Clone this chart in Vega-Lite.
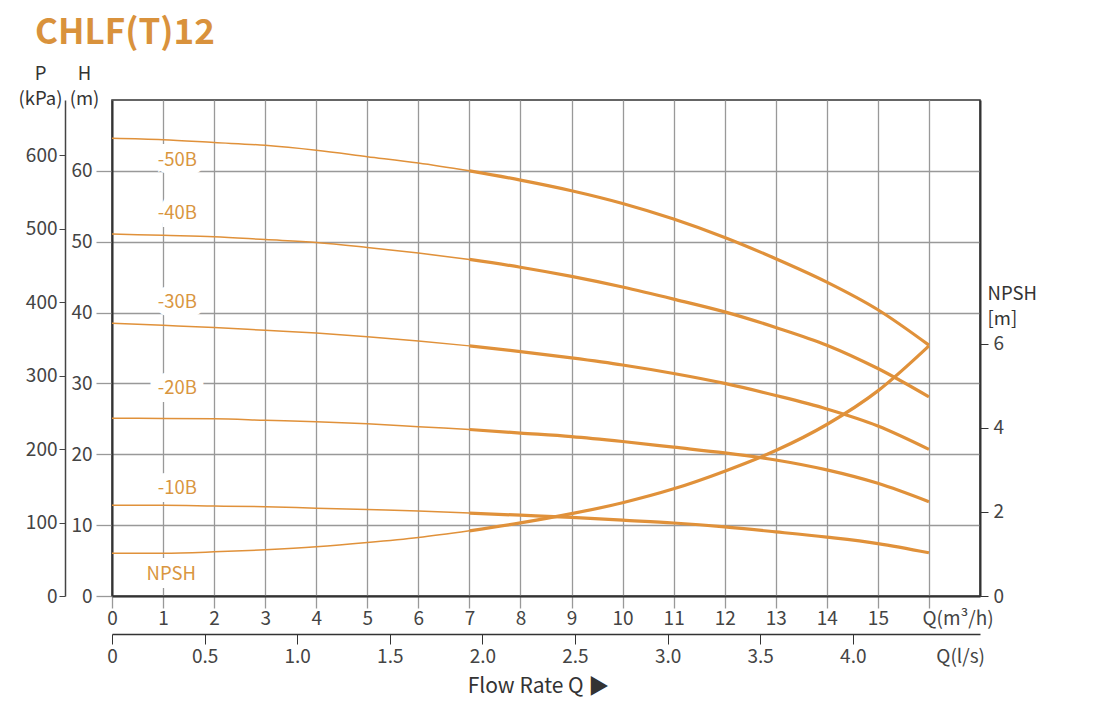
{
  "$schema": "https://vega.github.io/schema/vega-lite/v6.json",
  "autosize": {"type": "none"},
  "width": 868,
  "height": 496,
  "padding": {"left": 112, "top": 100, "right": 120, "bottom": 109},
  "background": "white",
  "config": {
    "view": {"stroke": "#333", "strokeWidth": 1.5},
    "font": "Noto Sans CJK SC",
    "axis": {"labelFont": "Noto Sans CJK SC", "titleFont": "Noto Sans CJK SC", "labelFontSize": 19, "labelColor": "#444", "titleColor": "#333", "titleFontWeight": "normal", "titleFontSize": 18.5, "labelFlush": false}
  },
  "title": {"text": "CHLF(T)12", "anchor": "start", "frame": "group", "fontSize": 35, "fontWeight": "bold", "color": "#D9923C", "font": "Noto Sans CJK SC", "dx": -77, "dy": -9},
  "datasets": {
    "pump": [
      {"s": "-50B", "q": 0, "h": 64.6}, {"s": "-50B", "q": 1, "h": 64.4}, {"s": "-50B", "q": 2, "h": 64.0}, {"s": "-50B", "q": 3, "h": 63.6}, {"s": "-50B", "q": 4, "h": 62.9}, {"s": "-50B", "q": 5, "h": 62.0}, {"s": "-50B", "q": 6, "h": 61.1}, {"s": "-50B", "q": 7, "h": 60.0}, {"s": "-50B", "q": 8, "h": 58.7}, {"s": "-50B", "q": 9, "h": 57.2}, {"s": "-50B", "q": 10, "h": 55.4}, {"s": "-50B", "q": 11, "h": 53.2}, {"s": "-50B", "q": 12, "h": 50.6}, {"s": "-50B", "q": 13, "h": 47.6}, {"s": "-50B", "q": 14, "h": 44.3}, {"s": "-50B", "q": 15, "h": 40.4}, {"s": "-50B", "q": 16, "h": 35.4},
      {"s": "-40B", "q": 0, "h": 51.1}, {"s": "-40B", "q": 1, "h": 50.9}, {"s": "-40B", "q": 2, "h": 50.7}, {"s": "-40B", "q": 3, "h": 50.3}, {"s": "-40B", "q": 4, "h": 49.9}, {"s": "-40B", "q": 5, "h": 49.2}, {"s": "-40B", "q": 6, "h": 48.4}, {"s": "-40B", "q": 7, "h": 47.5}, {"s": "-40B", "q": 8, "h": 46.4}, {"s": "-40B", "q": 9, "h": 45.1}, {"s": "-40B", "q": 10, "h": 43.6}, {"s": "-40B", "q": 11, "h": 41.9}, {"s": "-40B", "q": 12, "h": 40.1}, {"s": "-40B", "q": 13, "h": 37.9}, {"s": "-40B", "q": 14, "h": 35.4}, {"s": "-40B", "q": 15, "h": 32.1}, {"s": "-40B", "q": 16, "h": 28.1},
      {"s": "-30B", "q": 0, "h": 38.5}, {"s": "-30B", "q": 1, "h": 38.2}, {"s": "-30B", "q": 2, "h": 37.9}, {"s": "-30B", "q": 3, "h": 37.5}, {"s": "-30B", "q": 4, "h": 37.1}, {"s": "-30B", "q": 5, "h": 36.6}, {"s": "-30B", "q": 6, "h": 36.0}, {"s": "-30B", "q": 7, "h": 35.3}, {"s": "-30B", "q": 8, "h": 34.5}, {"s": "-30B", "q": 9, "h": 33.6}, {"s": "-30B", "q": 10, "h": 32.6}, {"s": "-30B", "q": 11, "h": 31.4}, {"s": "-30B", "q": 12, "h": 30.0}, {"s": "-30B", "q": 13, "h": 28.3}, {"s": "-30B", "q": 14, "h": 26.4}, {"s": "-30B", "q": 15, "h": 24.0}, {"s": "-30B", "q": 16, "h": 20.7},
      {"s": "-20B", "q": 0, "h": 25.1}, {"s": "-20B", "q": 1, "h": 25.05}, {"s": "-20B", "q": 2, "h": 25.0}, {"s": "-20B", "q": 3, "h": 24.8}, {"s": "-20B", "q": 4, "h": 24.6}, {"s": "-20B", "q": 5, "h": 24.3}, {"s": "-20B", "q": 6, "h": 23.9}, {"s": "-20B", "q": 7, "h": 23.5}, {"s": "-20B", "q": 8, "h": 23.0}, {"s": "-20B", "q": 9, "h": 22.5}, {"s": "-20B", "q": 10, "h": 21.8}, {"s": "-20B", "q": 11, "h": 21.0}, {"s": "-20B", "q": 12, "h": 20.2}, {"s": "-20B", "q": 13, "h": 19.2}, {"s": "-20B", "q": 14, "h": 17.8}, {"s": "-20B", "q": 15, "h": 15.9}, {"s": "-20B", "q": 16, "h": 13.3},
      {"s": "-10B", "q": 0, "h": 12.8}, {"s": "-10B", "q": 1, "h": 12.8}, {"s": "-10B", "q": 2, "h": 12.7}, {"s": "-10B", "q": 3, "h": 12.6}, {"s": "-10B", "q": 4, "h": 12.4}, {"s": "-10B", "q": 5, "h": 12.2}, {"s": "-10B", "q": 6, "h": 12.0}, {"s": "-10B", "q": 7, "h": 11.7}, {"s": "-10B", "q": 8, "h": 11.4}, {"s": "-10B", "q": 9, "h": 11.1}, {"s": "-10B", "q": 10, "h": 10.7}, {"s": "-10B", "q": 11, "h": 10.3}, {"s": "-10B", "q": 12, "h": 9.75}, {"s": "-10B", "q": 13, "h": 9.05}, {"s": "-10B", "q": 14, "h": 8.3}, {"s": "-10B", "q": 15, "h": 7.4}, {"s": "-10B", "q": 16, "h": 6.1}
    ],
    "npsh": [
      {"q": 0, "n": 1.02}, {"q": 1, "n": 1.02}, {"q": 2, "n": 1.05}, {"q": 3, "n": 1.1}, {"q": 4, "n": 1.17}, {"q": 5, "n": 1.27}, {"q": 6, "n": 1.39}, {"q": 7, "n": 1.55}, {"q": 8, "n": 1.74}, {"q": 9, "n": 1.96}, {"q": 10, "n": 2.22}, {"q": 11, "n": 2.55}, {"q": 12, "n": 2.97}, {"q": 13, "n": 3.46}, {"q": 14, "n": 4.08}, {"q": 15, "n": 4.88}, {"q": 16, "n": 5.95}
    ],
    "labels": [
      {"label": "-50B", "q": 1.28, "h": 61.5},
      {"label": "-40B", "q": 1.28, "h": 54.1},
      {"label": "-30B", "q": 1.28, "h": 41.5},
      {"label": "-20B", "q": 1.28, "h": 29.3},
      {"label": "-10B", "q": 1.28, "h": 15.2},
      {"label": "NPSH", "q": 1.16, "h": 3.16}
    ]
  },
  "layer": [
    {
      "data": {"name": "pump"},
      "encoding": {
        "x": {"field": "q", "type": "quantitative", "scale": {"domain": [0, 17], "nice": false, "zero": false},
          "axis": {"orient": "bottom", "values": [0,1,2,3,4,5,6,7,8,9,10,11,12,13,14,15,16], "title": null, "grid": true, "gridColor": "#999", "gridWidth": 1.3, "tickSize": 12, "tickColor": "#999", "tickWidth": 1.3, "domainColor": "#333", "domainWidth": 2, "labelPadding": 1,
            "labelExpr": "datum.value == 16 ? 'Q(m³/h)' : datum.label",
            "labelAlign": {"condition": {"test": "datum.value == 16", "value": "left"}, "value": "center"},
            "labelOffset": {"condition": {"test": "datum.value == 16", "value": -7}, "value": 0}}},
        "y": {"field": "h", "type": "quantitative", "scale": {"domain": [0, 70], "nice": false, "zero": false},
          "axis": {"orient": "left", "values": [0,10,20,30,40,50,60], "grid": true, "gridColor": "#999", "gridWidth": 1.3, "tickSize": 16, "tickColor": "#999", "tickWidth": 1.3, "domainColor": "#333", "domainWidth": 2, "labelPadding": 4,
            "title": ["H", "(m)"], "titleAngle": 0, "titleAlign": "center", "titleBaseline": "bottom", "titleX": -28, "titleY": -17, "titleLineHeight": 25}}
      },
      "layer": [
        {"transform": [{"filter": "datum.q <= 7"}], "mark": {"type": "line", "color": "#E0913A", "strokeWidth": 1.5, "interpolate": "monotone"}, "encoding": {"detail": {"field": "s"}}},
        {"transform": [{"filter": "datum.q >= 7"}], "mark": {"type": "line", "color": "#E0913A", "strokeWidth": 3.2, "interpolate": "monotone"}, "encoding": {"detail": {"field": "s"}}},
        {"data": {"name": "labels"}, "mark": {"type": "text", "fill": "white", "stroke": "white", "strokeWidth": 16, "strokeJoin": "miter", "fontSize": 18.5, "baseline": "middle", "align": "center"}, "encoding": {"text": {"field": "label"}}},
        {"data": {"name": "labels"}, "mark": {"type": "text", "fill": "#D9963F", "fontSize": 18.5, "baseline": "middle", "align": "center"}, "encoding": {"text": {"field": "label"}}}
      ]
    },
    {
      "data": {"values": [{}]},
      "mark": {"type": "point", "opacity": 0},
      "encoding": {
        "x": {"datum": 0, "type": "quantitative", "scale": {"domain": [0, 17], "nice": false}, "axis": null},
        "y": {"datum": 0, "type": "quantitative", "scale": {"domain": [0, 675], "nice": false},
          "axis": {"orient": "left", "offset": 47, "values": [0,100,200,300,400,500,600], "grid": false, "tickSize": 6, "tickColor": "#444", "domainColor": "#444", "domainWidth": 1.5, "labelPadding": 2,
            "title": ["P", "(kPa)"], "titleAngle": 0, "titleAlign": "center", "titleBaseline": "bottom", "titleX": -25, "titleY": -17, "titleLineHeight": 25}}
      }
    },
    {
      "data": {"name": "npsh"},
      "encoding": {
        "x": {"field": "q", "type": "quantitative", "scale": {"domain": [0, 17], "nice": false, "zero": false}, "axis": null},
        "y": {"field": "n", "type": "quantitative", "scale": {"domain": [0, 11.8], "nice": false, "zero": false},
          "axis": {"orient": "right", "values": [0,2,4,6], "grid": false, "tickSize": 8, "tickColor": "#333", "domainColor": "#333", "domainWidth": 2, "labelPadding": 5,
            "title": ["NPSH", "[m]"], "titleAngle": 0, "titleAlign": "left", "titleBaseline": "bottom", "titleX": 7, "titleY": 203, "titleLineHeight": 25}}
      },
      "layer": [
        {"transform": [{"filter": "datum.q <= 7"}], "mark": {"type": "line", "color": "#E0913A", "strokeWidth": 1.5, "interpolate": "monotone"}},
        {"transform": [{"filter": "datum.q >= 7"}], "mark": {"type": "line", "color": "#E0913A", "strokeWidth": 3.2, "interpolate": "monotone"}}
      ]
    },
    {
      "data": {"values": [{}]},
      "mark": {"type": "point", "opacity": 0},
      "encoding": {
        "x": {"datum": 0, "type": "quantitative", "scale": {"domain": [0, 4.687], "nice": false, "zero": false},
          "axis": {"orient": "bottom", "offset": 38, "values": [0,0.5,1,1.5,2,2.5,3,3.5,4,4.58], "format": ".1f", "grid": false, "tickSize": 10, "tickColor": "#333", "domainColor": "#333", "domainWidth": 1.5, "labelPadding": 3,
            "labelExpr": "datum.value > 4.5 ? 'Q(l/s)' : (datum.value == 0 ? '0' : datum.label)",
            "tickOpacity": {"condition": {"test": "datum.value > 4.5", "value": 0}, "value": 1},
            "title": "Flow Rate Q ▶", "titleFontSize": 21, "titleColor": "#333", "titleX": 426, "titleY": 52, "titleAlign": "center", "titleBaseline": "middle"}},
        "y": {"datum": 0, "type": "quantitative", "axis": null}
      }
    }
  ],
  "resolve": {"scale": {"x": "independent", "y": "independent"}}
}
